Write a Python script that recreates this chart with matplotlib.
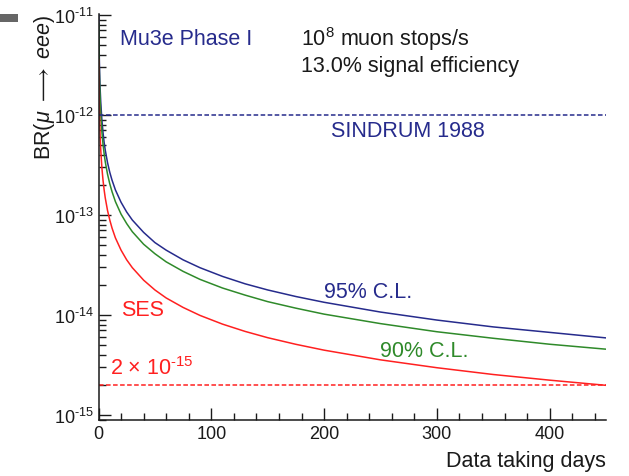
import numpy as np
import matplotlib.pyplot as plt
from matplotlib.ticker import MultipleLocator, LogLocator, NullFormatter, FuncFormatter
from matplotlib.patches import Rectangle

plt.rcParams['font.family'] = ['Liberation Sans', 'DejaVu Sans']
plt.rcParams['mathtext.fontset'] = 'custom'
plt.rcParams['mathtext.rm'] = 'Liberation Sans'
plt.rcParams['mathtext.it'] = 'Liberation Sans:italic'
plt.rcParams['mathtext.bf'] = 'Liberation Sans:bold'

# values
days = [0.25, 0.5, 0.75, 1, 1.5, 2, 3, 4, 5, 6, 8, 10, 12, 15, 20, 25, 30, 40, 50,
        60, 75, 90, 110, 130, 150, 175, 200, 250, 300, 350, 400, 450]
ses = [3.56e-12, 1.78e-12, 1.19e-12, 8.9e-13, 5.93e-13, 4.45e-13, 2.97e-13, 2.23e-13,
       1.78e-13, 1.48e-13, 1.11e-13, 8.9e-14, 7.4e-14, 5.9e-14, 4.45e-14, 3.56e-14,
       2.97e-14, 2.23e-14, 1.78e-14, 1.48e-14, 1.19e-14, 9.9e-15, 8.1e-15, 6.85e-15,
       5.93e-15, 5.09e-15, 4.45e-15, 3.56e-15, 2.97e-15, 2.54e-15, 2.23e-15, 1.98e-15]
cl90 = [8.2e-12, 4.1e-12, 2.73e-12, 2.05e-12, 1.36e-12, 1.02e-12, 6.8e-13, 5.1e-13,
        4.1e-13, 3.4e-13, 2.56e-13, 2.05e-13, 1.71e-13, 1.36e-13, 1.02e-13, 8.2e-14,
        6.8e-14, 5.1e-14, 4.1e-14, 3.4e-14, 2.73e-14, 2.27e-14, 1.86e-14, 1.58e-14,
        1.36e-14, 1.17e-14, 1.02e-14, 8.2e-15, 6.8e-15, 5.85e-15, 5.1e-15, 4.55e-15]
cl95 = [1.07e-11, 5.3e-12, 3.56e-12, 2.67e-12, 1.78e-12, 1.34e-12, 8.9e-13, 6.7e-13,
        5.3e-13, 4.45e-13, 3.34e-13, 2.67e-13, 2.23e-13, 1.78e-13, 1.34e-13, 1.07e-13,
        8.9e-14, 6.7e-14, 5.3e-14, 4.45e-14, 3.56e-14, 2.97e-14, 2.43e-14, 2.05e-14,
        1.78e-14, 1.53e-14, 1.34e-14, 1.07e-14, 8.9e-15, 7.6e-15, 6.7e-15, 5.9e-15]
sindrum = 1e-12
target = 2e-15
ydecades = [1e-15, 1e-14, 1e-13, 1e-12, 1e-11]

navy = '#262b8c'
green = '#2f8a2a'
red = '#ff2020'
dark = '#1a1a1a'

W, H = 629, 477
fig = plt.figure(figsize=(W / 100, H / 100), dpi=100)
ax = fig.add_axes([98.5 / W, 1 - 421 / H, 507.5 / W, 406.3 / H])

ax.plot(days, cl95, color=navy, lw=1.1)
ax.plot(days, cl90, color=green, lw=1.1)
ax.plot(days, ses, color=red, lw=1.1)
ax.axhline(sindrum, color=navy, lw=1.1, ls=(0, (3, 1.6)))
ax.axhline(target, color=red, lw=1.1, ls=(0, (3, 1.6)))

ax.set_yscale('log')
ax.set_xlim(0, 450)
ax.set_ylim(8.91e-16, 1.03e-11)

for s in ['top', 'right']:
    ax.spines[s].set_visible(False)
for s in ['left', 'bottom']:
    ax.spines[s].set_color(dark)
    ax.spines[s].set_linewidth(1.1)

ax.xaxis.set_major_locator(MultipleLocator(100))
ax.xaxis.set_minor_locator(MultipleLocator(20))
ax.set_yticks(ydecades)
ax.yaxis.set_minor_locator(LogLocator(base=10, subs=np.arange(2, 10), numticks=20))
ax.yaxis.set_minor_formatter(NullFormatter())
ax.yaxis.set_major_formatter(FuncFormatter(
    lambda v, p: r'$\mathregular{10^{\text{-}%d}}$' % round(-np.log10(v))))
ax.tick_params(which='both', direction='in', color=dark, width=1.0, labelsize=13,
               labelcolor=dark, pad=3.6)
ax.tick_params(which='major', length=8.5)
ax.tick_params(which='minor', length=5)
ax.patch.set_alpha(0)

def ftext(x, y, s, **kw):
    fig.text(x / W, 1 - y / H, s, **kw)

ftext(120, 45, 'Mu3e Phase I', color=navy, fontsize=15.5, va='baseline')
ftext(301, 46, r'$\mathregular{10^{8}}$ muon stops/s', color=dark, fontsize=15.5,
      va='baseline')
ftext(301, 72, '13.0% signal efficiency', color=dark, fontsize=15.5, va='baseline')
ftext(331, 137, 'SINDRUM 1988', color=navy, fontsize=15.5, va='baseline')
ftext(324, 298, '95% C.L.', color=navy, fontsize=15.5, va='baseline')
ftext(380, 357, '90% C.L.', color=green, fontsize=15.5, va='baseline')
ftext(121, 316.5, 'SES', color=red, fontsize=15.5, va='baseline')
ftext(110, 375, r'2 × 10$^{\text{-}15}$', color=red, fontsize=15.5, va='baseline')
ftext(606, 467, 'Data taking days', color=dark, fontsize=15.5, ha='right', va='baseline')
ftext(32, 15, r'BR($\mu\ \longrightarrow\ eee$)', color=dark, fontsize=15.5,
      rotation=90, ha='left', va='top')

fig.patches.append(Rectangle((0, 1 - 23 / H), 18 / W, 8 / H, transform=fig.transFigure,
                             color='#666666', lw=0))

fig.savefig('out.png', dpi=100)
